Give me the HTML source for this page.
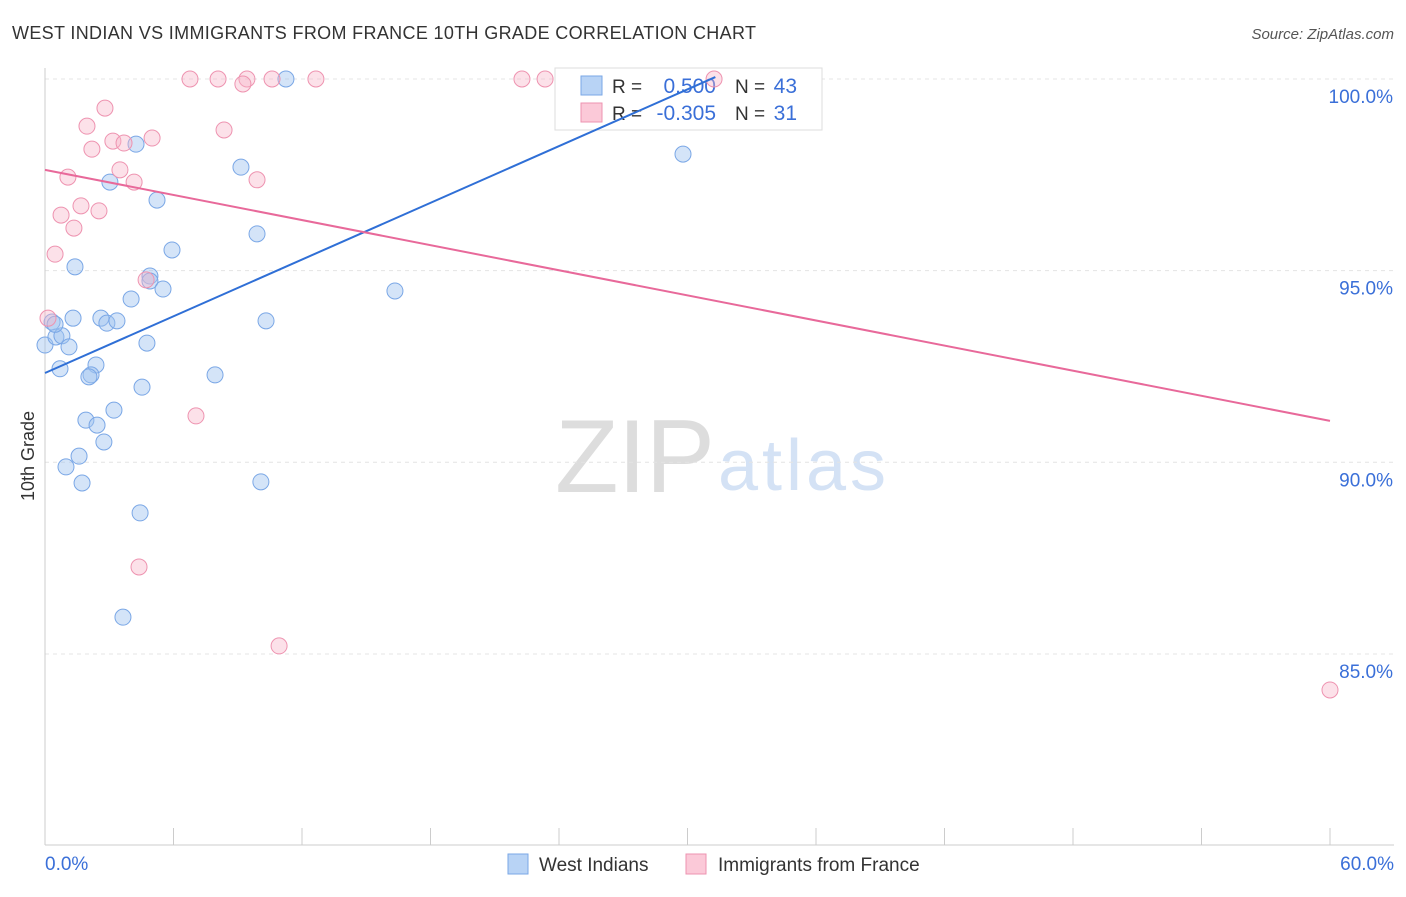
<!DOCTYPE html>
<html><head><meta charset="utf-8"><style>
body{margin:0;background:#fff;font-family:"Liberation Sans",sans-serif;}
svg text{font-family:"Liberation Sans",sans-serif;}
</style></head><body>
<svg id="chart" width="1406" height="892">
<text x="12" y="39" font-size="18" fill="#333" textLength="744">WEST INDIAN VS IMMIGRANTS FROM FRANCE 10TH GRADE CORRELATION CHART</text>
<text x="1394" y="39" font-size="15" fill="#555" font-style="italic" text-anchor="end">Source: ZipAtlas.com</text>
<text x="555" y="492" font-size="104" fill="#ddd" textLength="160" font-family="Liberation Serif">ZIP</text>
<text x="718" y="490" font-size="72" fill="#d4e2f5" textLength="168">atlas</text>
<text transform="translate(34,456) rotate(-90)" font-size="18" fill="#333" text-anchor="middle">10th Grade</text>
<g id="grid"></g>
<g>
<rect x="555" y="68" width="267" height="62" fill="#fff" stroke="#ddd"/>
<rect x="581" y="76" width="21" height="19" fill="#b8d3f5" stroke="#7aa7e6"/>
<rect x="581" y="103" width="21" height="19" fill="#fbc9d8" stroke="#ee93b0"/>
<text x="612" y="93" font-size="19" fill="#333">R =</text>
<text x="716" y="93" font-size="21" fill="#3a6fd8" text-anchor="end">0.500</text>
<text x="735" y="93" font-size="19" fill="#333">N =</text>
<text x="797" y="93" font-size="21" fill="#3a6fd8" text-anchor="end">43</text>
<text x="612" y="120" font-size="19" fill="#333">R =</text>
<text x="716" y="120" font-size="21" fill="#3a6fd8" text-anchor="end">-0.305</text>
<text x="735" y="120" font-size="19" fill="#333">N =</text>
<text x="797" y="120" font-size="21" fill="#3a6fd8" text-anchor="end">31</text>
</g>
<g id="marks"></g>
<g>
<rect x="508" y="854" width="20" height="20" fill="#b8d3f5" stroke="#7aa7e6"/>
<text x="539" y="871" font-size="19" fill="#333">West Indians</text>
<rect x="686" y="854" width="20" height="20" fill="#fbc9d8" stroke="#ee93b0"/>
<text x="718" y="871" font-size="19" fill="#333">Immigrants from France</text>
</g>
</svg>
<script>
const xTicks=[0,6,12,18,24,30,36,42,48,54,60];
const yTicks=[85,90,95,100];
const blueX=[0,0.33,0.51,0.79,1.12,0.70,1.40,1.31,2.61,2.89,3.36,2.38,2.15,2.05,1.91,2.43,2.75,3.22,1.59,0.98,1.73,4.02,4.90,4.90,5.51,4.76,4.53,4.44,3.64,3.03,4.25,5.23,5.93,9.15,9.90,10.32,7.94,10.08,11.25,16.34,29.79,0.47];
const blueY=[93.06,93.66,93.27,93.30,93.01,92.44,95.10,93.76,93.76,93.63,93.69,92.54,92.28,92.23,91.10,90.97,90.53,91.36,90.16,89.88,89.46,94.26,94.86,94.73,94.52,93.11,91.96,88.68,85.96,97.31,98.30,96.84,95.54,97.70,95.96,93.69,92.28,89.49,100,94.47,98.04,93.60];
const pinkX=[6.77,8.08,9.43,9.24,10.60,12.65,22.27,23.35,31.24,2.80,1.96,3.17,3.69,5.00,8.36,2.19,3.50,4.16,9.90,1.07,1.68,2.52,0.75,1.35,0.47,4.72,0.14,7.05,4.39,10.93,60];
const pinkY=[100,100,100,99.87,100,100,100,100,100,99.24,98.77,98.38,98.33,98.46,98.67,98.17,97.63,97.31,97.37,97.44,96.69,96.56,96.45,96.11,95.43,94.76,93.76,91.21,87.27,85.21,84.06];
const blueLineX=[0,31.3];const blueLineY=[92.33,100.05];
const pinkLineX=[0,60];const pinkLineY=[97.63,91.08];
const NS="http://www.w3.org/2000/svg";
const X=v=>45+v/60*1285;
const Y=v=>79+(100-v)*38.33;
function mk(t,a,p){const e=document.createElementNS(NS,t);for(const k in a)e.setAttribute(k,a[k]);p.appendChild(e);return e;}
const g=document.getElementById('grid'),m=document.getElementById('marks');
yTicks.forEach(v=>{
 const l=mk('line',{x1:45,x2:1394,y1:Y(v),y2:Y(v),stroke:'#e4e4e4','stroke-dasharray':'4,4'},g);
 
 
 const t=mk('text',{x:1393,y:Y(v)+24,'font-size':19,fill:'#3a6fd8','text-anchor':'end'},g);
 t.textContent=v.toFixed(1)+'%';
 
 
});
mk('line',{x1:45,x2:45,y1:68,y2:845,stroke:'#ccc'},g);
mk('line',{x1:45,x2:1394,y1:845,y2:845,stroke:'#ccc'},g);
xTicks.forEach(v=>{
 const l=mk('line',{x1:X(v),x2:X(v),y1:828,y2:845,stroke:'#ccc'},g);
 
 
});
[[0,'start',45],[60,'end',1394]].forEach(([v,a,x])=>{
 const t=mk('text',{x:x,y:870,'font-size':19,fill:'#3a6fd8','text-anchor':a},g);
 t.textContent=v.toFixed(1)+'%';
 
 
});
blueX.forEach((x,i)=>{
 const c=mk('circle',{cx:X(x),cy:Y(blueY[i]),r:8,fill:'rgba(160,195,240,0.45)',stroke:'#7aa7e6','stroke-width':1},m);
 
 
});
pinkX.forEach((x,i)=>{
 const c=mk('circle',{cx:X(x),cy:Y(pinkY[i]),r:8,fill:'rgba(248,180,200,0.4)',stroke:'#ee93b0','stroke-width':1},m);
 
 
});
const bl=mk('line',{x1:X(blueLineX[0]),y1:Y(blueLineY[0]),x2:X(blueLineX[1]),y2:Y(blueLineY[1]),stroke:'#2f6fd6','stroke-width':2},m);


const pl=mk('line',{x1:X(pinkLineX[0]),y1:Y(pinkLineY[0]),x2:X(pinkLineX[1]),y2:Y(pinkLineY[1]),stroke:'#e8699a','stroke-width':2},m);


</script>
</body></html>
